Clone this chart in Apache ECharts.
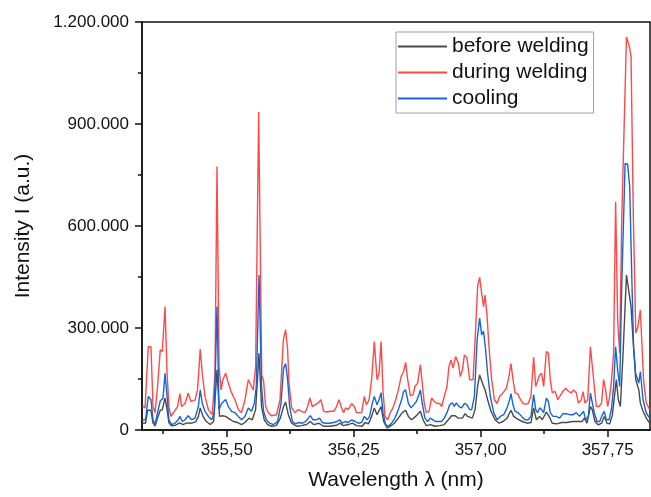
<!DOCTYPE html>
<html>
<head>
    <meta charset="utf-8">
    <title>Spectrum</title>
    <script src="https://cdn.jsdelivr.net/npm/echarts@6/dist/echarts.min.js"></script>
    <style>
        html, body { margin: 0; padding: 0; background: #fff; }
        #chart { width: 651px; height: 497px; }
    </style>
</head>
<body>
<div id="chart"></div>
<script>
    // wavelength (nm), intensity (a.u.)
    var beforeWelding = [
        [355.002,21000],[355.021,20000],[355.033,58000],[355.053,58000],[355.065,20000],[355.077,12000],[355.092,35000],[355.108,58000],[355.120,60000],[355.136,94000],[355.148,60000],[355.159,21000],[355.175,12000],[355.198,14000],[355.222,21000],[355.242,16000],[355.266,21000],[355.293,20000],[355.317,24000],[355.333,40000],[355.344,65000],[355.360,40000],[355.380,25000],[355.403,16000],[355.423,25000],[355.443,177000],[355.458,40000],[355.474,42000],[355.494,40000],[355.517,32000],[355.541,25000],[355.565,22000],[355.588,16000],[355.608,22000],[355.632,35000],[355.651,30000],[355.671,60000],[355.691,226000],[355.706,69000],[355.722,30000],[355.742,16000],[355.765,11000],[355.793,13000],[355.817,35000],[355.836,69000],[355.848,82000],[355.864,45000],[355.884,20000],[355.913,11000],[355.943,13000],[355.972,16000],[355.994,25000],[356.013,16000],[356.045,20000],[356.071,11000],[356.110,11000],[356.149,14000],[356.169,20000],[356.189,13000],[356.218,16000],[356.242,20000],[356.267,13000],[356.277,9000],[356.301,11000],[356.317,22000],[356.337,18000],[356.356,40000],[356.372,65000],[356.388,45000],[356.403,60000],[356.412,69000],[356.427,25000],[356.447,6000],[356.466,11000],[356.490,20000],[356.514,35000],[356.537,51000],[356.557,58000],[356.573,40000],[356.592,30000],[356.616,40000],[356.644,55000],[356.660,30000],[356.679,13000],[356.703,16000],[356.730,11000],[356.760,13000],[356.785,16000],[356.809,30000],[356.828,42000],[356.849,42000],[356.868,35000],[356.892,35000],[356.908,48000],[356.923,40000],[356.951,35000],[356.967,60000],[356.982,128000],[356.994,162000],[357.010,138000],[357.026,118000],[357.041,89000],[357.061,55000],[357.085,30000],[357.108,20000],[357.132,25000],[357.156,35000],[357.179,58000],[357.195,40000],[357.218,32000],[357.246,25000],[357.274,20000],[357.297,22000],[357.313,65000],[357.329,30000],[357.348,40000],[357.364,30000],[357.388,53000],[357.404,40000],[357.423,20000],[357.451,18000],[357.478,22000],[357.510,22000],[357.541,25000],[357.569,25000],[357.600,25000],[357.612,35000],[357.628,20000],[357.648,69000],[357.659,60000],[357.675,25000],[357.695,15000],[357.714,20000],[357.730,40000],[357.746,20000],[357.762,18000],[357.778,45000],[357.790,99000],[357.801,148000],[357.813,89000],[357.825,69000],[357.841,226000],[357.861,456000],[357.872,453000],[357.888,363000],[357.900,265000],[357.916,148000],[357.934,118000],[357.943,79000],[357.959,55000],[357.978,35000],[357.998,20000]
    ];
    var duringWelding = [
        [355.002,72000],[355.018,65000],[355.037,245000],[355.053,245000],[355.065,69000],[355.077,51000],[355.092,128000],[355.108,236000],[355.120,231000],[355.136,363000],[355.148,168000],[355.159,69000],[355.171,40000],[355.191,55000],[355.210,69000],[355.224,107000],[355.234,69000],[355.254,78000],[355.273,109000],[355.289,84000],[355.313,88000],[355.328,118000],[355.344,238000],[355.356,167000],[355.372,99000],[355.392,60000],[355.415,45000],[355.431,167000],[355.443,775000],[355.455,187000],[355.467,118000],[355.478,148000],[355.494,167000],[355.510,138000],[355.526,113000],[355.549,89000],[355.569,60000],[355.588,51000],[355.608,89000],[355.628,148000],[355.647,128000],[355.657,118000],[355.671,187000],[355.689,935000],[355.707,160000],[355.718,145000],[355.730,69000],[355.746,51000],[355.765,42000],[355.795,45000],[355.815,89000],[355.835,265000],[355.848,295000],[355.860,236000],[355.868,139000],[355.884,65000],[355.904,51000],[355.923,60000],[355.943,55000],[355.963,51000],[355.978,69000],[355.992,94000],[356.006,69000],[356.022,74000],[356.041,80000],[356.057,89000],[356.073,55000],[356.093,53000],[356.112,55000],[356.132,55000],[356.149,69000],[356.163,89000],[356.179,65000],[356.191,51000],[356.202,65000],[356.218,60000],[356.238,78000],[356.254,69000],[356.267,51000],[356.297,51000],[356.313,99000],[356.325,74000],[356.341,89000],[356.356,148000],[356.372,260000],[356.388,148000],[356.400,167000],[356.412,260000],[356.423,118000],[356.435,40000],[356.451,30000],[356.466,51000],[356.482,65000],[356.498,89000],[356.514,118000],[356.530,157000],[356.545,172000],[356.557,199000],[356.569,148000],[356.585,101000],[356.601,104000],[356.612,128000],[356.628,138000],[356.644,192000],[356.655,138000],[356.667,78000],[356.679,51000],[356.695,55000],[356.710,94000],[356.726,84000],[356.742,78000],[356.758,78000],[356.770,69000],[356.785,99000],[356.801,128000],[356.813,187000],[356.825,206000],[356.837,182000],[356.852,216000],[356.868,197000],[356.880,157000],[356.892,177000],[356.904,221000],[356.919,212000],[356.935,148000],[356.943,143000],[356.955,148000],[356.967,265000],[356.982,422000],[356.994,449000],[357.006,402000],[357.017,363000],[357.026,397000],[357.038,334000],[357.049,245000],[357.065,148000],[357.081,89000],[357.097,78000],[357.112,99000],[357.132,109000],[357.152,123000],[357.167,157000],[357.179,195000],[357.191,148000],[357.203,109000],[357.218,107000],[357.234,91000],[357.250,78000],[357.266,76000],[357.281,78000],[357.297,99000],[357.313,214000],[357.325,128000],[357.336,123000],[357.348,162000],[357.360,167000],[357.372,128000],[357.388,231000],[357.400,226000],[357.411,148000],[357.423,109000],[357.439,114000],[357.455,89000],[357.470,101000],[357.486,114000],[357.502,123000],[357.518,114000],[357.534,109000],[357.549,118000],[357.565,109000],[357.577,79000],[357.593,88000],[357.605,113000],[357.616,79000],[357.632,88000],[357.648,245000],[357.659,245000],[357.671,128000],[357.683,69000],[357.699,69000],[357.714,79000],[357.726,148000],[357.738,118000],[357.750,69000],[357.762,99000],[357.773,148000],[357.785,226000],[357.797,671000],[357.809,324000],[357.821,226000],[357.833,618000],[357.861,1156000],[357.876,1132000],[357.888,1100000],[357.902,618000],[357.916,285000],[357.927,300000],[357.943,353000],[357.962,148000],[357.978,80000],[357.998,60000]
    ];
    var cooling = [
        [355.002,30000],[355.021,30000],[355.037,99000],[355.053,89000],[355.065,30000],[355.077,16000],[355.092,51000],[355.108,86000],[355.124,93000],[355.136,167000],[355.148,99000],[355.159,30000],[355.175,16000],[355.195,20000],[355.214,30000],[355.224,40000],[355.238,25000],[355.254,30000],[355.273,42000],[355.293,30000],[355.313,35000],[355.333,69000],[355.344,118000],[355.356,78000],[355.372,55000],[355.392,40000],[355.411,30000],[355.427,51000],[355.443,363000],[355.455,60000],[355.470,78000],[355.494,90000],[355.510,69000],[355.529,55000],[355.549,51000],[355.569,40000],[355.588,30000],[355.608,40000],[355.628,65000],[355.647,55000],[355.663,78000],[355.675,128000],[355.691,456000],[355.706,128000],[355.718,55000],[355.734,30000],[355.754,20000],[355.777,16000],[355.801,25000],[355.821,78000],[355.836,182000],[355.848,195000],[355.860,148000],[355.872,69000],[355.888,25000],[355.907,18000],[355.927,22000],[355.947,20000],[355.966,25000],[355.982,35000],[355.994,42000],[356.010,30000],[356.029,30000],[356.049,35000],[356.065,22000],[356.084,20000],[356.108,20000],[356.132,22000],[356.152,25000],[356.167,30000],[356.183,20000],[356.199,25000],[356.218,22000],[356.238,30000],[356.258,25000],[356.277,20000],[356.297,22000],[356.313,40000],[356.329,30000],[356.344,40000],[356.360,78000],[356.372,99000],[356.388,74000],[356.400,89000],[356.412,110000],[356.423,51000],[356.439,16000],[356.455,11000],[356.474,20000],[356.494,35000],[356.514,60000],[356.533,89000],[356.545,113000],[356.557,118000],[356.573,78000],[356.589,65000],[356.604,74000],[356.620,84000],[356.632,99000],[356.644,118000],[356.655,78000],[356.671,35000],[356.687,25000],[356.703,35000],[356.719,30000],[356.734,25000],[356.750,25000],[356.769,25000],[356.785,35000],[356.801,51000],[356.817,74000],[356.833,80000],[356.844,69000],[356.856,80000],[356.872,69000],[356.888,65000],[356.904,78000],[356.919,74000],[356.935,60000],[356.947,60000],[356.963,99000],[356.979,265000],[356.994,329000],[357.006,280000],[357.017,290000],[357.029,236000],[357.041,167000],[357.057,99000],[357.077,51000],[357.097,30000],[357.116,40000],[357.136,45000],[357.156,65000],[357.171,89000],[357.179,107000],[357.191,74000],[357.203,55000],[357.222,51000],[357.242,40000],[357.262,30000],[357.281,30000],[357.297,40000],[357.313,104000],[357.325,60000],[357.336,51000],[357.348,65000],[357.360,60000],[357.372,51000],[357.388,94000],[357.400,84000],[357.411,51000],[357.427,40000],[357.447,40000],[357.466,35000],[357.486,48000],[357.506,48000],[357.525,45000],[357.545,45000],[357.565,51000],[357.584,40000],[357.608,55000],[357.620,30000],[357.636,40000],[357.648,109000],[357.659,104000],[357.671,50000],[357.687,25000],[357.703,25000],[357.719,45000],[357.730,55000],[357.742,30000],[357.758,30000],[357.773,64000],[357.785,128000],[357.797,245000],[357.809,177000],[357.821,128000],[357.833,422000],[357.853,784000],[357.868,782000],[357.880,716000],[357.892,461000],[357.903,245000],[357.915,167000],[357.934,138000],[357.943,172000],[357.959,89000],[357.978,50000],[357.998,35000]
    ];
    var seriesNames = ['before welding', 'during welding', 'cooling'];
    var xMajorTicks = [355.5, 356.25, 357.0, 357.75];
    var xMinorTicks = [355.125, 355.875, 356.625, 357.375];
    var yTicks = [0, 300000, 600000, 900000, 1200000];

    var FONT = 'Liberation Sans, Arial, sans-serif';
    var myChart = echarts.init(document.getElementById('chart'), null, {renderer: 'canvas'});

    function fmtY(v) {
        return String(Math.round(v)).replace(/\B(?=(\d{3})+(?!\d))/g, '.');
    }
    function fmtX(v) {
        return v.toFixed(2).replace('.', ',');
    }

    myChart.setOption({
        animation: false,
        grid: {
            left: 142, right: 1, top: 22, bottom: 67,
            show: true,
            borderColor: '#111',
            borderWidth: 1.5
        },
        legend: {
            data: seriesNames,
            orient: 'vertical',
            left: 396,
            top: 32,
            padding: [4, 5, 4, 2],
            icon: 'rect',
            itemWidth: 49,
            itemHeight: 2,
            itemGap: 5,
            backgroundColor: '#fff',
            borderColor: '#a0a0a0',
            borderWidth: 1,
            textStyle: {fontFamily: FONT, fontSize: 21, color: '#111'}
        },
        xAxis: [{
            type: 'value',
            min: 355, max: 358,
            name: 'Wavelength \u03bb (nm)',
            nameLocation: 'middle',
            nameGap: 40,
            nameTextStyle: {fontFamily: FONT, fontSize: 21, color: '#111'},
            axisLine: {show: true, lineStyle: {color: '#111', width: 1.5}},
            axisTick: {show: true, length: 7, customValues: xMajorTicks, lineStyle: {color: '#111', width: 1.5}},
            axisLabel: {customValues: xMajorTicks, formatter: fmtX, margin: 12,
                fontFamily: FONT, fontSize: 17, color: '#111'},
            splitLine: {show: false}
        }, {
            type: 'value',
            min: 355, max: 358,
            position: 'bottom',
            axisLine: {show: false},
            axisTick: {show: true, length: 4, customValues: xMinorTicks, lineStyle: {color: '#111', width: 1.5}},
            axisLabel: {show: false},
            splitLine: {show: false}
        }],
        yAxis: {
            type: 'value',
            min: yTicks[0], max: yTicks[yTicks.length - 1], interval: 300000,
            name: 'Intensity I (a.u.)',
            nameLocation: 'middle',
            nameRotate: 90,
            nameGap: 108,
            nameTextStyle: {fontFamily: FONT, fontSize: 21, color: '#111'},
            axisLine: {show: true, lineStyle: {color: '#111', width: 1.5}},
            axisTick: {show: true, length: 7, lineStyle: {color: '#111', width: 1.5}},
            minorTick: {show: true, splitNumber: 2, length: 4, lineStyle: {color: '#111', width: 1.5}},
            axisLabel: {formatter: fmtY, margin: 13, fontFamily: FONT, fontSize: 17, color: '#111'},
            splitLine: {show: false}
        },
        series: [{
            name: seriesNames[0],
            type: 'line',
            data: beforeWelding,
            symbol: 'none',
            lineStyle: {color: '#4a4a4a', width: 1.4},
            itemStyle: {color: '#4a4a4a'}
        }, {
            name: seriesNames[1],
            type: 'line',
            data: duringWelding,
            symbol: 'none',
            lineStyle: {color: '#ff4848', width: 1.4},
            itemStyle: {color: '#ff4848'}
        }, {
            name: seriesNames[2],
            type: 'line',
            data: cooling,
            symbol: 'none',
            lineStyle: {color: '#1565d8', width: 1.4},
            itemStyle: {color: '#1565d8'}
        }]
    });
</script>
</body>
</html>
